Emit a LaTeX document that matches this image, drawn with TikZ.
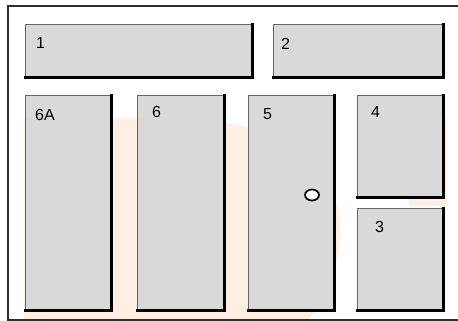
\documentclass[tikz,border=0pt]{standalone}
\usepackage{fontspec}
\setmainfont{Liberation Sans}
\usepackage{tikz}
\definecolor{boxgray}{HTML}{D9D9D9}
\definecolor{peach}{HTML}{FFEEE4}

\tikzset{
  fusebox/.style={draw=gray!80!black,line width=0.6pt,fill=boxgray,inner sep=0pt,anchor=north west},
  boxshadow/.style={line width=2.8pt,line cap=rect},
  boxlabel/.style={anchor=north west,inner sep=0pt,font=\fontsize{16}{18}\selectfont},
}

\begin{document}
\begin{tikzpicture}[x=1pt,y=-1pt]
  \useasboundingbox (0,0) rectangle (458,321);
  \clip (0,0) rectangle (458,321);
  % faint mark behind the panel
  \fill[peach] (24,321) -- (24,118) -- (170,118)
    .. controls (300,118) and (345,180) .. (340,240)
    .. controls (336,280) and (320,305) .. (307,321) -- cycle;
  \fill[peach] (408,206) -- (418,118) -- (447,118) -- (447,206) -- cycle;
  % frame
  \draw[line width=1.6pt,gray!35!black] (464,6) -- (8,6) -- (8,320) -- (464,320);
  % boxes
  \foreach \name/\xa/\ya/\xb/\yb/\txt/\lx/\ly in {
      b1/25/24/252/77/1/36/37,
      b2/273/24/443/77/2/281/38,
      b6A/25/95/111/310/6A/35/109,
      b6/137/95/224/310/6/152/106,
      b5/248/95/334/310/5/263/108,
      b4/357/95/443/197/4/371/106,
      b3/357/208/443/310/3/375/221}{
    \node[fusebox,minimum width={(\xb-\xa)*1pt},minimum height={(\yb-\ya)*1pt}] (\name) at (\xa,\ya) {};
    \draw[boxshadow] (\name.south west) -- (\name.south east) -- (\name.north east);
    \node[boxlabel] (l\name) at (\lx,\ly) {\txt};
  }
  \draw[line width=1.7pt,fill=white] (312,195) ellipse (7 and 5.5);
\end{tikzpicture}
\end{document}
